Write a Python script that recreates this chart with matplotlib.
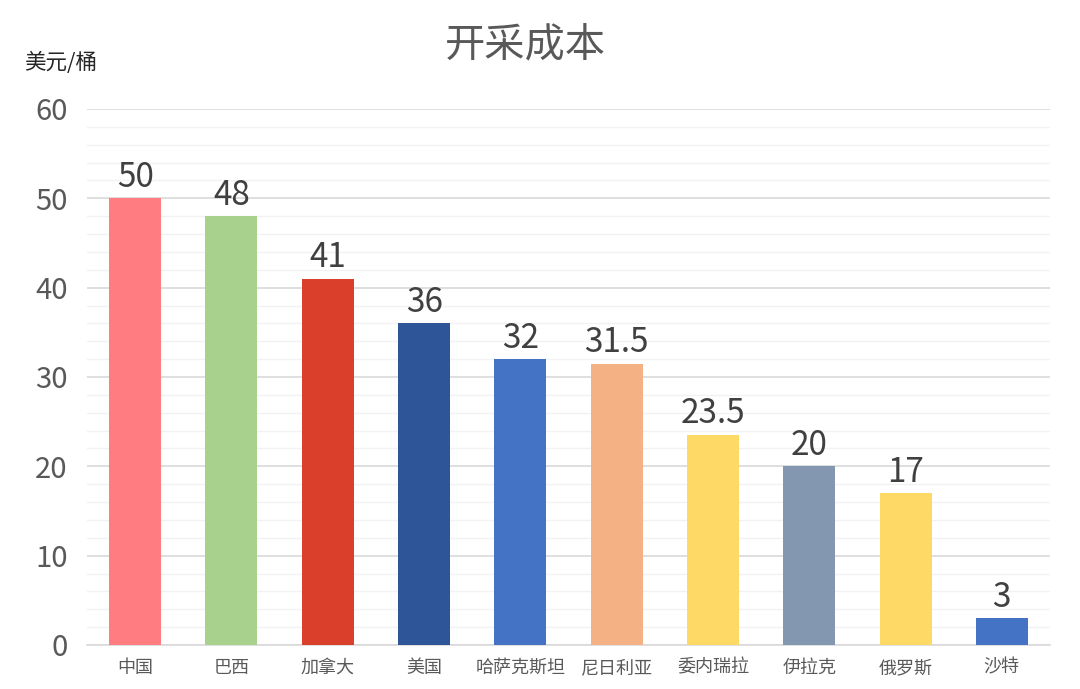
import matplotlib
matplotlib.use('Agg')
import matplotlib.pyplot as plt
from matplotlib.ticker import MultipleLocator

plt.rcParams['font.family'] = ['Noto Sans CJK SC', 'DejaVu Sans']

# 数据
countries = ['中国', '巴西', '加拿大', '美国', '哈萨克斯坦', '尼日利亚', '委内瑞拉', '伊拉克', '俄罗斯', '沙特']
costs = [50, 48, 41, 36, 32, 31.5, 23.5, 20, 17, 3]
value_labels = ['50', '48', '41', '36', '32', '31.5', '23.5', '20', '17', '3']
bar_colors = ['#FF7C80', '#A9D18E', '#DA3F2C', '#2E5597', '#4472C4',
              '#F4B183', '#FFD966', '#8497B0', '#FFD966', '#4472C4']

fig = plt.figure(figsize=(10.8, 6.89), dpi=100)
ax = fig.add_axes([0.0806, 0.0639, 0.8916, 0.7779])

x = range(len(countries))
bars = ax.bar(x, costs, width=0.54, color=bar_colors, zorder=3)

for b, lab in zip(bars, value_labels):
    ax.text(b.get_x() + b.get_width() / 2, b.get_height() + 0.4, lab,
            ha='center', va='bottom', fontsize=24, color='#404040', zorder=4)

ax.set_xlim(-0.5, len(countries) - 0.5)
ax.set_ylim(0, 60)
ax.yaxis.set_major_locator(MultipleLocator(10))
ax.yaxis.set_minor_locator(MultipleLocator(2))
ax.grid(which='major', axis='y', color='#D9D9D9', linewidth=1.2, zorder=0)
ax.grid(which='minor', axis='y', color='#F2F2F2', linewidth=1.0, zorder=0)

ax.set_xticks(list(x))
ax.set_xticklabels(countries, fontsize=13, color='#595959')
ax.tick_params(axis='y', which='both', length=0, labelsize=21, colors='#595959', pad=14)
ax.tick_params(axis='x', length=0, pad=10)

for s in ['top', 'right', 'left']:
    ax.spines[s].set_visible(False)
ax.spines['bottom'].set_color('#D9D9D9')
ax.spines['bottom'].set_linewidth(1.2)

fig.text(0.486, 0.935, '开采成本', ha='center', va='center', fontsize=29, color='#595959')
fig.text(0.022, 0.908, '美元/桶', ha='left', va='center', fontsize=15.5, color='#262626')

fig.savefig('out.png', dpi=100)
